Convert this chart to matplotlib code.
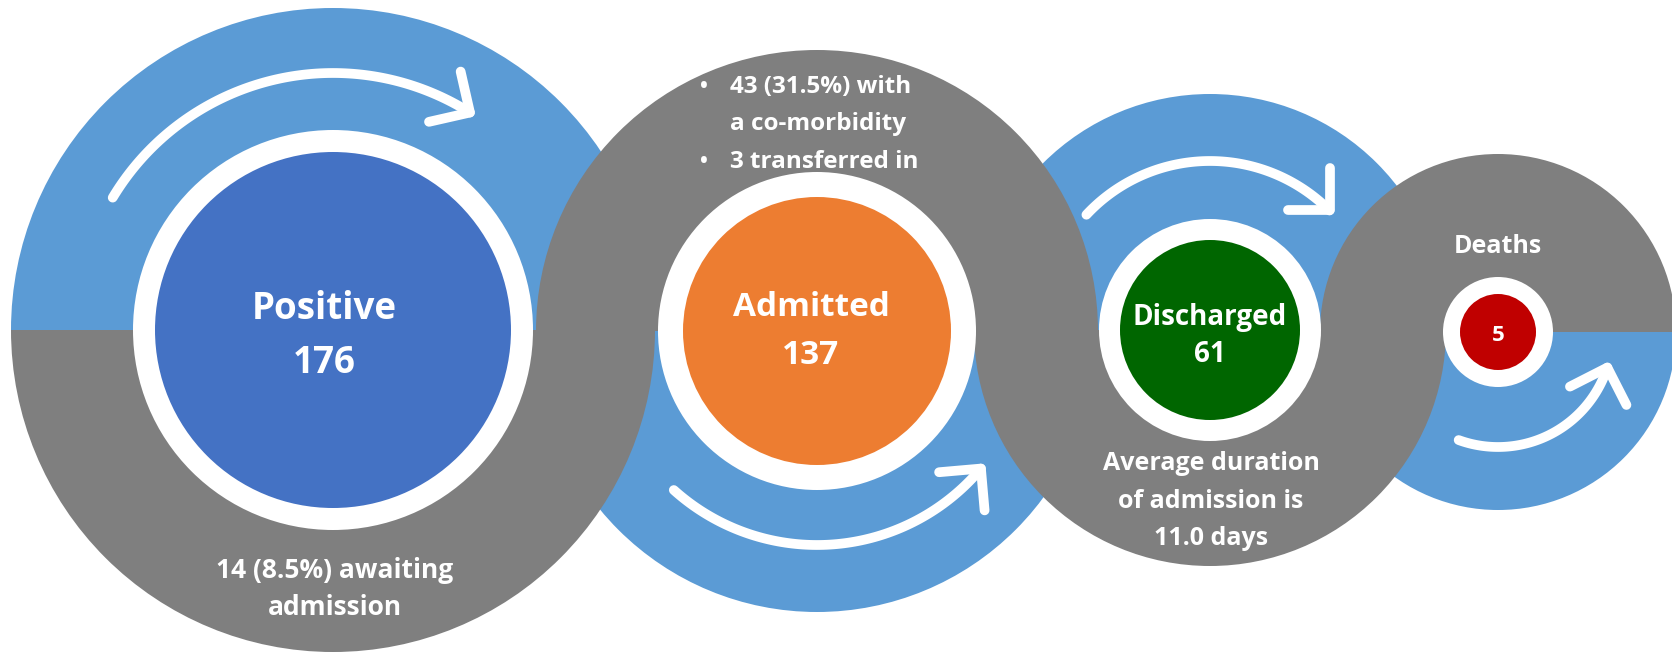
import numpy as np
import matplotlib
matplotlib.use("Agg")
import matplotlib.pyplot as plt
from matplotlib.patches import Wedge, Circle

# ---- data ----
stages = ["Positive", "Admitted", "Discharged", "Deaths"]
counts = [176, 137, 61, 5]
awaiting = 14
awaiting_pct = 8.5
comorbid = 43
comorbid_pct = 31.5
transferred_in = 3
avg_stay_days = 11.0

# ---- layout (pixels from the top-left corner) ----
W, H = 1672, 652
cx = [333, 817, 1210, 1498]
cy = [330, 331, 330, 332]
r_outer = [322, 281, 236, 178]
r_ring = [200, 159, 111, 55]
r_disk = [178, 134, 90, 38]
grey_on_top = [False, True, False, True]
disk_cols = ["#4472C4", "#ED7D31", "#006600", "#C00000"]
BLUE = "#5B9BD5"
GREY = "#7F7F7F"

# arrows: (circle, radius, start angle, end angle), angles counter-clockwise from east
arrows = [(0, 257, 149, 57.8), (1, 214, 228, 320), (2, 169, 137, 45), (3, 115, 250, 342)]

plt.rcParams['font.family'] = ['Open Sans', 'DejaVu Sans']

fig = plt.figure(figsize=(W / 100, H / 100), dpi=100)
ax = fig.add_axes([0, 0, 1, 1])
ax.set_xlim(0, W)
ax.set_ylim(H, 0)
ax.set_aspect('equal')
ax.axis('off')

# y axis is inverted, so 180..360 is the upper half on screen
for i in range(4):
    up_col = GREY if grey_on_top[i] else BLUE
    lo_col = BLUE if grey_on_top[i] else GREY
    ax.add_patch(Wedge((cx[i], cy[i]), r_outer[i], 180, 360, color=up_col,
                       zorder=2 if up_col == GREY else 1, lw=0))
    ax.add_patch(Wedge((cx[i], cy[i]), r_outer[i], 0, 180, color=lo_col,
                       zorder=2 if lo_col == GREY else 1, lw=0))
    ax.add_patch(Circle((cx[i], cy[i]), r_ring[i], color='white', zorder=3, lw=0))
    ax.add_patch(Circle((cx[i], cy[i]), r_disk[i], color=disk_cols[i], zorder=4, lw=0))

# curved arrows
L = 42
for i, r, a0, a1 in arrows:
    t = np.radians(np.linspace(a0, a1, 100))
    xs = cx[i] + r * np.cos(t)
    ys = cy[i] - r * np.sin(t)
    ax.plot(xs, ys, color='white', lw=7, solid_capstyle='round', zorder=5)
    s = np.sign(a1 - a0)
    te = np.radians(a1)
    back = np.array([s * np.sin(te), s * np.cos(te)])
    arms = []
    for ang in (np.pi / 4, -np.pi / 4):
        c, sn = np.cos(ang), np.sin(ang)
        d = np.array([back[0] * c - back[1] * sn, back[0] * sn + back[1] * c])
        arms.append((xs[-1] + L * d[0], ys[-1] + L * d[1]))
    ax.plot([arms[0][0], xs[-1], arms[1][0]], [arms[0][1], ys[-1], arms[1][1]],
            color='white', lw=7, solid_capstyle='round', solid_joinstyle='round', zorder=5)

txt = dict(color='white', fontweight='bold', ha='center', va='baseline', zorder=6)

# Positive
ax.text(324, 319, stages[0], fontsize=26.5, **txt)
ax.text(324, 373, str(counts[0]), fontsize=26.5, **txt)
ax.text(335, 578, f"{awaiting} ({awaiting_pct}%) awaiting", fontsize=19, **txt)
ax.text(335, 615, "admission", fontsize=19, **txt)

# Admitted
ax.text(811, 316, stages[1], fontsize=24, **txt)
ax.text(811, 364, str(counts[1]), fontsize=24, **txt)
left = dict(txt, ha='left')
ax.text(704, 93, "\u2022", fontsize=15, **txt)
ax.text(730, 93, f"{comorbid} ({comorbid_pct}%) with", fontsize=17.5, **left)
ax.text(730, 130, "a co-morbidity", fontsize=17.5, **left)
ax.text(704, 168, "\u2022", fontsize=15, **txt)
ax.text(730, 168, f"{transferred_in} transferred in", fontsize=17.5, **left)

# Discharged
ax.text(1210, 325, stages[2], fontsize=20, **txt)
ax.text(1210, 362, str(counts[2]), fontsize=20, **txt)
ax.text(1211, 470, "Average duration", fontsize=18, **txt)
ax.text(1211, 508, "of admission is", fontsize=18, **txt)
ax.text(1211, 545, f"{avg_stay_days:.1f} days", fontsize=18, **txt)

# Deaths
ax.text(1498, 253, stages[3], fontsize=18, **txt)
ax.text(1498, 341, str(counts[3]), fontsize=16, **txt)

fig.savefig("out.png", dpi=100, facecolor='white')
